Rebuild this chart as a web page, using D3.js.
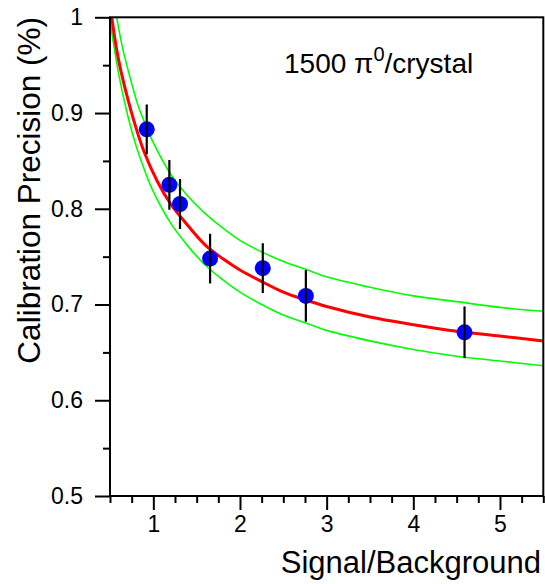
<!DOCTYPE html>
<html>
<head>
<meta charset="utf-8">
<script src="https://cdn.jsdelivr.net/npm/d3@7"></script>
<style>
  html, body { margin: 0; padding: 0; background: #fff; }
  svg { display: block; font-family: "Liberation Sans", Arial, Helvetica, sans-serif; }
</style>
</head>
<body>
<svg id="chart" width="545" height="584"></svg>
<script>
// ---- data ----
const pointX   = [0.924, 1.185, 1.308, 1.655, 2.263, 2.760, 4.591];
const pointY   = [0.883, 0.825, 0.805, 0.748, 0.738, 0.709, 0.671];
const pointErr = [0.026, 0.026, 0.026, 0.026, 0.026, 0.027, 0.027];

const fitX     = [0.52, 0.60, 0.75, 0.90, 1.05, 1.20, 1.366, 1.60, 1.80, 2.00, 2.25, 2.50, 2.75, 3.00, 3.50, 4.00, 4.50, 5.00, 5.50];
const fitY     = [1.000, 0.955, 0.900, 0.858, 0.828, 0.805, 0.786, 0.762, 0.748, 0.736, 0.724, 0.713, 0.705, 0.698, 0.687, 0.679, 0.672, 0.667, 0.662];

const upperX   = [0.577, 0.65, 0.75, 0.827, 0.90, 1.00, 1.20, 1.40, 1.60, 1.80, 2.00, 2.25, 2.50, 2.75, 3.00, 3.50, 4.00, 4.50, 5.00, 5.50];
const upperY   = [1.000, 0.966, 0.931, 0.907, 0.890, 0.869, 0.836, 0.813, 0.795, 0.780, 0.767, 0.755, 0.745, 0.737, 0.729, 0.718, 0.709, 0.703, 0.697, 0.693];

const lowerX   = [0.50, 0.60, 0.70, 0.80, 0.90, 1.00, 1.20, 1.40, 1.60, 1.80, 2.00, 2.25, 2.50, 2.75, 3.00, 3.50, 4.00, 4.50, 5.00, 5.50];
const lowerY   = [0.997, 0.941, 0.899, 0.866, 0.840, 0.818, 0.785, 0.761, 0.741, 0.726, 0.713, 0.700, 0.689, 0.681, 0.673, 0.662, 0.653, 0.646, 0.641, 0.636];

const xMajorTicks = [1, 2, 3, 4, 5];
const yMajorTicks = [0.5, 0.6, 0.7, 0.8, 0.9, 1.0];
const yTickLabels = ["0.5", "0.6", "0.7", "0.8", "0.9", "1"];
const xTitle = "Signal/Background";
const yTitle = "Calibration Precision (%)";

// ---- layout ----
const L = 110, R = 543.3, T = 17.3, B = 496;
const x = d3.scaleLinear().domain([0.5, 5.5]).range([L, R]);
const y = d3.scaleLinear().domain([0.5, 1.0]).range([B, T]);

const svg = d3.select("#chart");

svg.append("defs").append("clipPath").attr("id", "clip")
  .append("rect").attr("x", L).attr("y", T).attr("width", R - L).attr("height", B - T);

const plot = svg.append("g").attr("clip-path", "url(#clip)");

const line = d3.line().x(d => x(d[0])).y(d => y(d[1])).curve(d3.curveCatmullRom.alpha(0.5));

plot.append("path").datum(d3.zip(upperX, upperY))
  .attr("d", line).attr("fill", "none").attr("stroke", "#00ff00").attr("stroke-width", 1.6);
plot.append("path").datum(d3.zip(lowerX, lowerY))
  .attr("d", line).attr("fill", "none").attr("stroke", "#00ff00").attr("stroke-width", 1.6);
plot.append("path").datum(d3.zip(fitX, fitY))
  .attr("d", line).attr("fill", "none").attr("stroke", "#ff0000").attr("stroke-width", 3);

const pts = d3.range(pointX.length).map(i => ({x: pointX[i], y: pointY[i], e: pointErr[i]}));

plot.selectAll("circle.pt").data(pts).enter().append("circle")
  .attr("class", "pt")
  .attr("cx", d => x(d.x)).attr("cy", d => y(d.y)).attr("r", 8)
  .attr("fill", "#0000ff");

plot.selectAll("line.err").data(pts).enter().append("line")
  .attr("class", "err")
  .attr("x1", d => x(d.x)).attr("x2", d => x(d.x))
  .attr("y1", d => y(d.y - d.e)).attr("y2", d => y(d.y + d.e))
  .attr("stroke", "#000").attr("stroke-width", 2.2);

// ---- axes ----
const xAxis = d3.axisBottom(x).tickValues(xMajorTicks).tickSize(14).tickPadding(6)
  .tickFormat(d3.format("d"));
const xMinor = d3.axisBottom(x).tickValues(d3.range(0.5, 5.51, 0.25).filter(v => Math.abs(v - Math.round(v)) > 1e-6))
  .tickSize(7).tickFormat("");
const yAxis = d3.axisLeft(y).tickValues(yMajorTicks).tickSize(15).tickPadding(12)
  .tickFormat((d, i) => yTickLabels[i]);
const yMinor = d3.axisLeft(y).tickValues([0.55, 0.65, 0.75, 0.85, 0.95]).tickSize(7).tickFormat("");

function styleAxis(g) {
  g.select(".domain").remove();
  g.selectAll("line").attr("stroke", "#000").attr("stroke-width", 2);
  g.selectAll("text").attr("fill", "#000").style("font-size", "23px")
    .style("font-family", "'Liberation Sans', Arial, sans-serif");
}

svg.append("g").attr("transform", `translate(0,${B})`).call(xMinor).call(styleAxis);
svg.append("g").attr("transform", `translate(0,${B})`).call(xAxis).call(styleAxis);
svg.append("g").attr("transform", `translate(${L},0)`).call(yMinor).call(styleAxis);
svg.append("g").attr("transform", `translate(${L},0)`).call(yAxis).call(styleAxis);

// frame
svg.append("rect").attr("x", L).attr("y", T).attr("width", R - L).attr("height", B - T)
  .attr("fill", "none").attr("stroke", "#000").attr("stroke-width", 2);

// titles
svg.append("text").attr("x", 541).attr("y", 573).attr("text-anchor", "end")
  .style("font-size", "31px").attr("fill", "#000").text(xTitle);

svg.append("text").attr("transform", "translate(40,17) rotate(-90)").attr("text-anchor", "end")
  .style("font-size", "31.5px").attr("fill", "#000").text(yTitle);

// annotation
const ann = svg.append("text").attr("x", 284).attr("y", 73).style("font-size", "28px").attr("fill", "#000");
ann.append("tspan").text("1500 \u03C0");
ann.append("tspan").attr("dy", -12).style("font-size", "20px").text("0");
ann.append("tspan").attr("dy", 12).text("/crystal");
</script>
</body>
</html>
